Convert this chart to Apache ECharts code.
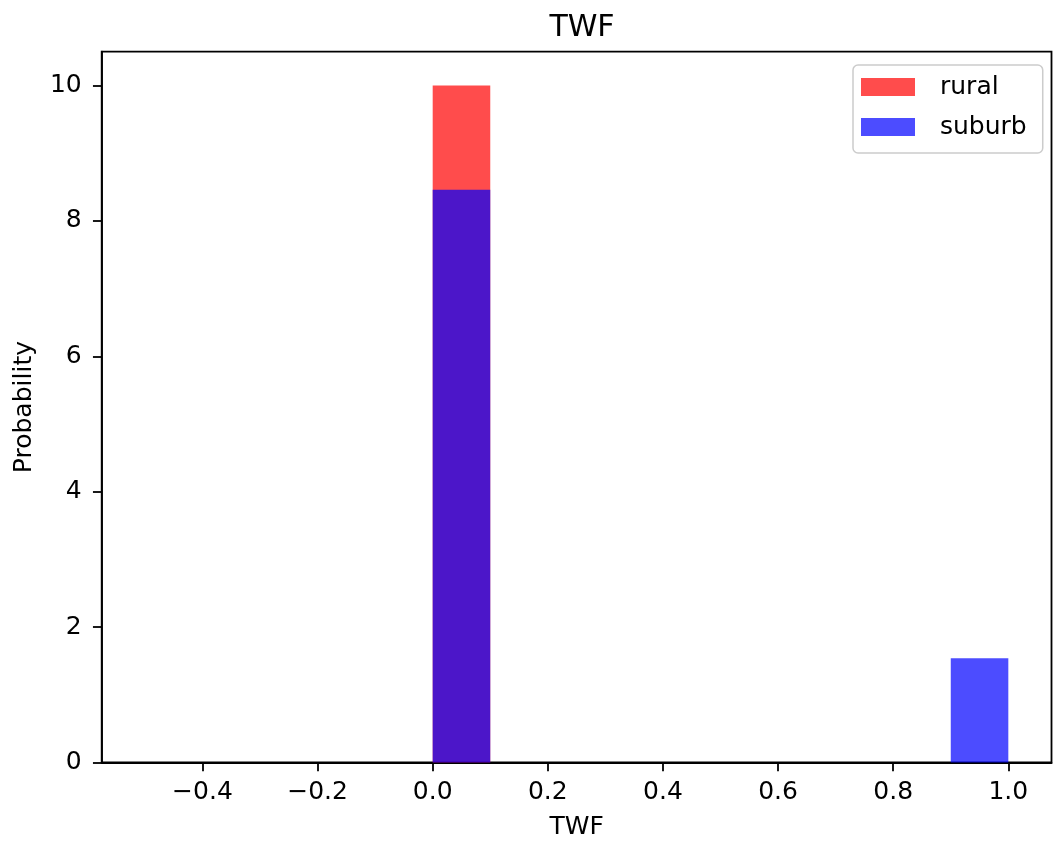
<!DOCTYPE html>
<html>
<head>
<meta charset="utf-8">
<title>TWF</title>
<script src="https://cdn.jsdelivr.net/npm/echarts@6/dist/echarts.min.js"></script>
<style>
  html, body { margin: 0; padding: 0; background: #fff; }
  #chart { width: 1053px; height: 849px; }
</style>
</head>
<body>
<div id="chart"></div>
<script>
// histogram bins (density), one value per bin
const binEdges = [0.0, 0.1, 0.2, 0.3, 0.4, 0.5, 0.6, 0.7, 0.8, 0.9, 1.0];
const rural = [10, 0, 0, 0, 0, 0, 0, 0, 0, 0];
const suburb = [8.46, 0, 0, 0, 0, 0, 0, 0, 0, 1.54];
const xTicks = [-0.4, -0.2, 0.0, 0.2, 0.4, 0.6, 0.8, 1.0];
const yTicks = [0, 2, 4, 6, 8, 10];

const FONT = 'DejaVu Sans';

function toBins(values) {
  let out = [];
  values.forEach((v, i) => {
    if (v > 0) out.push([binEdges[i], binEdges[i + 1], v]);
  });
  return out;
}

function renderBar(params, api) {
  let p0 = api.coord([api.value(0), 0]);
  let p1 = api.coord([api.value(1), api.value(2)]);
  return {
    type: 'rect',
    shape: { x: p0[0], y: p1[1], width: p1[0] - p0[0], height: p0[1] - p1[1] },
    style: { fill: api.visual('color') }
  };
}

function fmt(v) {
  return v.toFixed(1).replace('-', '\u2212');
}

let chart = echarts.init(document.getElementById('chart'), null, { renderer: 'canvas' });
let option = {
  animation: false,
  backgroundColor: '#fff',
  title: {
    text: 'TWF',
    left: 577,
    textAlign: 'center',
    top: 8,
    textStyle: { fontFamily: FONT, fontSize: 30, fontWeight: 'normal', color: '#000' }
  },
  legend: {
    orient: 'vertical',
    left: 853,
    top: 65,
    icon: 'rect',
    itemWidth: 54,
    itemHeight: 18,
    itemGap: 10,
    padding: [7, 16, 11, 8],
    borderColor: '#cccccc',
    borderWidth: 1.5,
    borderRadius: 5,
    backgroundColor: 'rgba(255,255,255,0.8)',
    textStyle: { fontFamily: FONT, fontSize: 25, color: '#000', lineHeight: 30, padding: [0, 0, 0, 20] },
    data: ['rural', 'suburb']
  },
  grid: {
    left: 101.7,
    right: 1.5,
    top: 51.7,
    bottom: 86.5,
    show: true,
    borderColor: '#000',
    borderWidth: 1.8,
    containLabel: false
  },
  xAxis: {
    type: 'value',
    min: -0.575,
    max: 1.075,
    name: 'TWF',
    nameLocation: 'middle',
    nameGap: 52,
    nameTextStyle: { fontFamily: FONT, fontSize: 25, color: '#000' },
    axisLine: { show: true, onZero: false, lineStyle: { color: '#000', width: 1.8 } },
    axisTick: { show: true, length: 8.75, lineStyle: { color: '#000', width: 1.8 }, customValues: xTicks },
    axisLabel: {
      fontFamily: FONT, fontSize: 25, color: '#000', margin: 17,
      customValues: xTicks,
      formatter: fmt
    },
    splitLine: { show: false }
  },
  yAxis: {
    type: 'value',
    min: 0,
    max: 10.5,
    name: 'Probability',
    nameLocation: 'middle',
    nameGap: 65,
    nameTextStyle: { fontFamily: FONT, fontSize: 25, color: '#000' },
    axisLine: { show: true, onZero: false, lineStyle: { color: '#000', width: 1.8 } },
    axisTick: { show: true, length: 8.75, lineStyle: { color: '#000', width: 1.8 }, customValues: yTicks },
    axisLabel: {
      fontFamily: FONT, fontSize: 25, color: '#000', margin: 20,
      customValues: yTicks,
      formatter: v => String(v)
    },
    splitLine: { show: false }
  },
  series: [
    {
      name: 'rural',
      type: 'custom',
      renderItem: renderBar,
      itemStyle: { color: 'rgba(255,0,0,0.7)' },
      encode: { x: [0, 1], y: 2 },
      data: toBins(rural)
    },
    {
      name: 'suburb',
      type: 'custom',
      renderItem: renderBar,
      itemStyle: { color: 'rgba(0,0,255,0.7)' },
      encode: { x: [0, 1], y: 2 },
      data: toBins(suburb)
    }
  ]
};
chart.setOption(option);
</script>
</body>
</html>
